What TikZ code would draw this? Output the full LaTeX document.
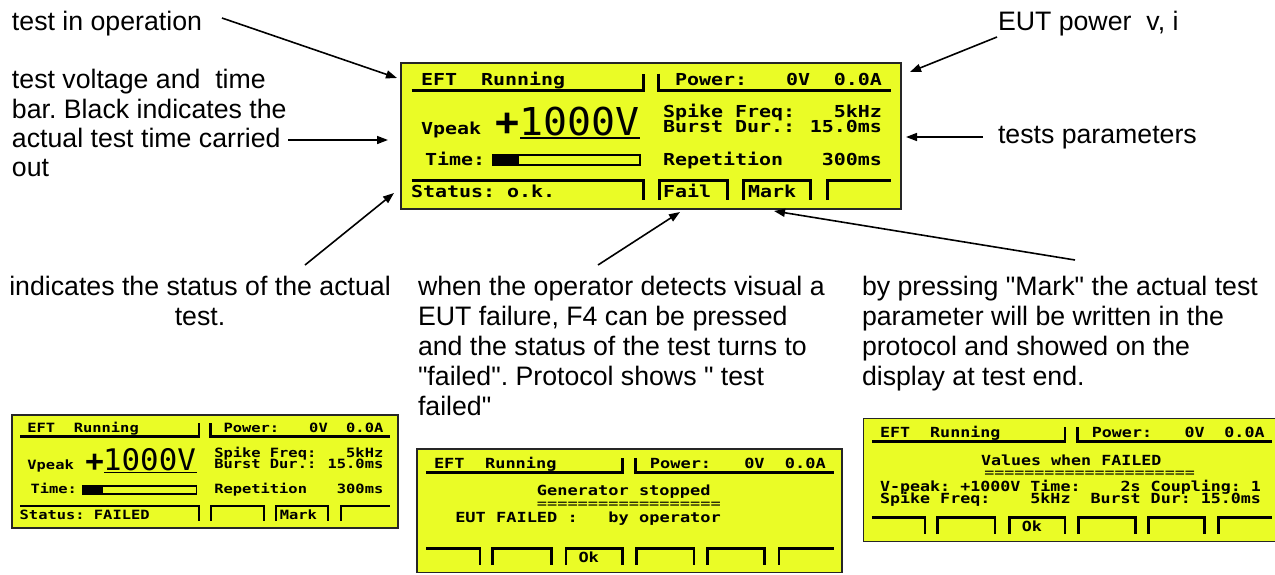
\documentclass[tikz,border=0pt]{standalone}
\usepackage{fontspec}
\setmainfont{Liberation Sans}
\newfontfamily\lcdf{DejaVu Sans Mono}[FakeStretch=1.21]
\newfontfamily\lcdbigf{DejaVu Sans Mono}[FakeStretch=1.04]
\usetikzlibrary{arrows.meta}
\definecolor{lcdyellow}{RGB}{234,252,38}
\frenchspacing
\tikzset{
  lbl/.style={anchor=base west, inner sep=0, outer sep=0, font=\fontsize{26.7}{30}\selectfont},
  lblc/.style={lbl, anchor=base},
  lt/.style={anchor=base west, inner sep=0, outer sep=0, font=\lcdf\bfseries\fontsize{16.5}{18}\selectfont},
  lte/.style={lt, anchor=base east},
  leq/.style={anchor=base west, inner sep=0, outer sep=0, font=\lcdf\fontsize{16.5}{18}\selectfont},
  lbig/.style={anchor=base west, inner sep=0, outer sep=0, font=\lcdbigf\fontsize{38.4}{40}\selectfont},
  lplus/.style={anchor=base, inner sep=0, outer sep=0, font=\lcdbigf\bfseries\fontsize{38.4}{40}\selectfont},
  lcdframe/.style={draw=black!85, line width=1.5pt, fill=lcdyellow, anchor=north west,
     minimum width=500pt, minimum height=146pt, inner sep=0, outer sep=0},
  lcdline/.style={line width=\lcdlw},
  pointer/.style={line width=1.6pt, -{Triangle[length=11pt,width=8pt]}},
}
\newcommand\qq{\textquotedbl}
\newcommand\lcdTabR[2]{\draw[lcdline] (#1,-117.5) -- (#2,-117.5) -- (#2,-137);}
\newcommand\lcdTabU[2]{\draw[lcdline] (#1,-137) -- (#1,-117.5) -- (#2,-117.5) -- (#2,-137);}
\newcommand\lcdTabL[2]{\draw[lcdline] (#1,-137) -- (#1,-117.5) -- (#2,-117.5);}
\newcommand\lcdTopRow[1]{%
  \draw[lcdline] (10.7,-27.7) -- (242,-27.7) -- (242,-10.5);
  \draw[lcdline] (257,-10.5) -- (257,-27.7) -- (490,-27.7);
  \node[lt] (#1-eft) at (20,-22.7) {EFT\ \ Running};
  \node[lt] (#1-pow) at (274,-22.7) {Power:};
  \node[lt] (#1-v) at (385,-22.7) {0V};
  \node[lte] (#1-a) at (481,-22.7) {0.0A};
}
\newcommand\lcdMeas[1]{%
  \node[lt] (#1-up) at (20,-71) {Vpeak};
  \node[lplus] (#1-plus) at (107,-72.5) {+};
  \node[lbig] (#1-volt) at (118,-72) {1000V};
  \draw[line width=\lcdthin] (119,-74.5) -- (239,-74.5);
  \node[lt] (#1-sf) at (262,-54.3) {Spike Freq:};
  \node[lte] (#1-sfv) at (481,-54.3) {5kHz};
  \node[lt] (#1-bd) at (262,-69.7) {Burst Dur.:};
  \node[lte] (#1-bdv) at (481,-69.7) {15.0ms};
  \node[lt] (#1-time) at (24,-102) {Time:};
  \draw[line width=\lcdthin] (92,-92) rectangle (239,-102);
  \fill (92,-91) rectangle (118,-103);
  \node[lt] (#1-rep) at (262,-102) {Repetition};
  \node[lte] (#1-repv) at (481,-102) {300ms};
}
\newcommand\lcdSixTabs{%
  \lcdTabR{10.7}{74}
  \lcdTabU{89}{158}
  \lcdTabU{175}{242}
  \lcdTabU{258}{326}
  \lcdTabU{342}{409}
  \lcdTabL{426}{490}
}
\begin{document}
\begin{tikzpicture}[x=1pt,y=1pt]
\useasboundingbox (0,0) rectangle (1275,-574);
\fill[white] (0,0) rectangle (1275,-574);

% ---------- main display ----------
\def\lcdlw{3pt}\def\lcdthin{2pt}
\begin{scope}[shift={(401,-63)}]
  \node[lcdframe] (main) at (0,0) {};
  \lcdTopRow{m}
  \lcdMeas{m}
  \lcdTabR{10.7}{242}
  \node[lt] (m-status) at (10,-134.5) {Status: o.k.};
  \lcdTabU{258}{326}
  \node[lt] (m-fail) at (262,-134.5) {Fail};
  \lcdTabU{342}{409}
  \node[lt] (m-mark) at (347,-134.5) {Mark};
  \lcdTabL{426}{490}
\end{scope}

% ---------- panel A ----------
\def\lcdlw{2.3pt}\def\lcdthin{1.6pt}
\begin{scope}[shift={(12,-415)}, xscale=0.772, yscale=0.774, transform shape]
  \node[lcdframe] (pa) at (0,0) {};
  \lcdTopRow{a}
  \lcdMeas{a}
  \lcdTabR{10.7}{242}
  \node[lt] (a-status) at (10,-134.5) {Status: FAILED};
  \lcdTabU{258}{326}
  \lcdTabU{342}{409}
  \node[lt] (a-mark) at (347,-134.5) {Mark};
  \lcdTabL{426}{490}
\end{scope}

% ---------- panel B ----------
\def\lcdlw{2.5pt}\def\lcdthin{1.7pt}
\begin{scope}[shift={(417,-449)}, xscale=0.85, yscale=0.845, transform shape]
  \node[lcdframe] (pb) at (0,0) {};
  \lcdTopRow{b}
  \node[lt] (b-gen) at (141,-55.3) {Generator stopped};
  \node[leq] (b-eq) at (141,-70) {==================};
  \node[lt] (b-eut) at (45,-87) {EUT FAILED :\ \ \ by operator};
  \lcdSixTabs
  \node[lt] (b-ok) at (190,-134.5) {Ok};
\end{scope}

% ---------- panel C ----------
\begin{scope}[shift={(863.4,-418.3)}, xscale=0.834, yscale=0.845, transform shape]
  \node[lcdframe] (pc) at (0,0) {};
  \lcdTopRow{c}
  \node[lt] (c-val) at (141,-55.3) {Values when FAILED};
  \node[leq] (c-eq) at (145,-70) {=====================};
  \node[lt] (c-l1) at (20,-86.8) {V-peak: +1000V Time:\ \ \ \ 2s Coupling: 1};
  \node[lt] (c-l2) at (20,-100.6) {Spike Freq:\ \ \ \ 5kHz\ \ Burst Dur: 15.0ms};
  \lcdSixTabs
  \node[lt] (c-ok) at (190,-134.5) {Ok};
\end{scope}

% ---------- annotations ----------
\node[lbl] (t-op) at (12,-30) {test in operation};
\node[lbl] (t-v1) at (12,-88.5) {test voltage and\ \ time};
\node[lbl] (t-v2) at (12,-118) {bar. Black indicates the};
\node[lbl] (t-v3) at (12,-147) {actual test time carried};
\node[lbl] (t-v4) at (12,-176) {out};
\node[lbl] (t-eut) at (998,-30) {EUT power\ \ v, i};
\node[lbl] (t-par) at (998,-143.5) {tests parameters};
\node[lblc] (t-st1) at (200,-295) {indicates the status of the actual};
\node[lblc] (t-st2) at (200,-325) {test.};
\node[lbl] (t-f1) at (418,-295) {when the operator detects visual a};
\node[lbl] (t-f2) at (418,-325) {EUT failure, F4 can be pressed};
\node[lbl] (t-f3) at (418,-355) {and the status of the test turns to};
\node[lbl] (t-f4) at (418,-385) {\qq failed\qq. Protocol shows \qq\ test};
\node[lbl] (t-f5) at (418,-415) {failed\qq};
\node[lbl] (t-m1) at (862,-295) {by pressing \qq Mark\qq\ the actual test};
\node[lbl] (t-m2) at (862,-325) {parameter will be written in the};
\node[lbl] (t-m3) at (862,-355) {protocol and showed on the};
\node[lbl] (t-m4) at (862,-385) {display at test end.};

% ---------- arrows ----------
\coordinate (a1s) at (222,-18);   \coordinate (a1e) at (397,-78);
\coordinate (a2s) at (288,-140);  \coordinate (a2e) at (388,-140);
\coordinate (a3s) at (305,-265);  \coordinate (a3e) at (394,-193);
\coordinate (a4s) at (598,-265);  \coordinate (a4e) at (680,-212);
\coordinate (a5s) at (1075,-260); \coordinate (a5e) at (774,-211);
\coordinate (a6s) at (997,-37);   \coordinate (a6e) at (910,-72);
\coordinate (a7s) at (983,-137);  \coordinate (a7e) at (906,-137);
\draw[pointer] (a1s) -- (a1e);
\draw[pointer] (a2s) -- (a2e);
\draw[pointer] (a3s) -- (a3e);
\draw[pointer] (a4s) -- (a4e);
\draw[pointer] (a5s) -- (a5e);
\draw[pointer] (a6s) -- (a6e);
\draw[pointer] (a7s) -- (a7e);
\end{tikzpicture}
\end{document}
